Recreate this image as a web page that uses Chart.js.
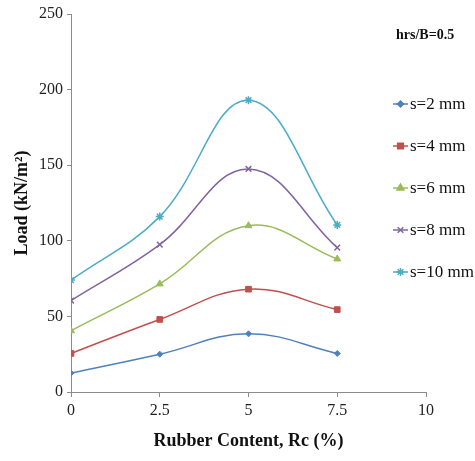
<!DOCTYPE html>
<html>
<head>
<meta charset="utf-8">
<script src="https://cdn.jsdelivr.net/npm/chart.js@4.4.1/dist/chart.umd.min.js"></script>
<style>
  html, body { margin: 0; padding: 0; background: #fff; }
  #wrap { width: 475px; height: 461px; }
</style>
</head>
<body>
<div id="wrap"><canvas id="chart" width="475" height="461"></canvas></div>
<script>
// rubber content (%) on x, load in kN/m2 on y
var rubber = [0, 2.5, 5, 7.5];
var xTicks = [0, 2.5, 5, 7.5, 10];
var s2 = [12.5, 25, 38.5, 25.5];
var s4 = [25.5, 48, 68, 54.5];
var s6 = [40.5, 71.5, 110, 88];
var s8 = [60.5, 97.5, 147.5, 95.5];
var s10 = [74, 116, 193, 110.5];
var seriesNames = ["s=2 mm", "s=4 mm", "s=6 mm", "s=8 mm", "s=10 mm"];
var noteText = "hrs/B=0.5";

var colors = ["#4F81BD", "#C0504D", "#9BBB59", "#8064A2", "#4BACC6"];
var markers = ["rectRot", "rect", "triangle", "crossRot", "star"];
var radii = [3, 4, 4, 4, 4];

function pts(vals) {
    return vals.map(function (v, i) { return {x: rubber[i], y: v}; });
}

var allSeries = [s2, s4, s6, s8, s10];
var datasets = allSeries.map(function (vals, i) {
    return {
        label: seriesNames[i],
        data: pts(vals),
        borderColor: colors[i],
        backgroundColor: colors[i],
        borderWidth: 1.5,
        pointStyle: markers[i],
        pointRadius: radii[i],
        pointBorderWidth: (i >= 3 ? 1.5 : 1),
        pointBorderColor: colors[i],
        pointBackgroundColor: colors[i],
        tension: 0.4,
        fill: false
    };
});

var serif = "'Liberation Serif', 'Times New Roman', serif";

// legend drawn at the right, overlapping the plot area like the original
var sideLegend = {
    id: "sideLegend",
    afterDraw: function (chart) {
        var ctx = chart.ctx;
        ctx.save();
        ctx.fillStyle = "#111";
        ctx.font = "bold 14px " + serif;
        ctx.textBaseline = "middle";
        ctx.textAlign = "left";
        ctx.fillText(noteText, 396, 35);

        chart.data.datasets.forEach(function (ds, i) {
            var y = 104 + i * 42;
            ctx.strokeStyle = ds.borderColor;
            ctx.lineWidth = 1.5;
            ctx.beginPath();
            ctx.moveTo(393, y);
            ctx.lineTo(408, y);
            ctx.stroke();
            ctx.fillStyle = ds.borderColor;
            Chart.helpers.drawPoint(ctx, {
                pointStyle: ds.pointStyle,
                radius: ds.pointRadius,
                rotation: 0,
                borderWidth: ds.pointBorderWidth
            }, 400.5, y);
            ctx.fillStyle = "#111";
            ctx.font = "17px " + serif;
            ctx.fillText(ds.label, 410, y + 1);
        });
        ctx.restore();
    }
};

new Chart(document.getElementById("chart"), {
    type: "line",
    data: {datasets: datasets},
    plugins: [sideLegend],
    options: {
        responsive: false,
        animation: false,
        layout: {padding: {top: 14, right: 49, left: 0, bottom: 0}},
        plugins: {
            legend: {display: false},
            tooltip: {enabled: false}
        },
        scales: {
            x: {
                type: "linear",
                min: 0,
                max: 10,
                afterBuildTicks: function (scale) {
                    scale.ticks = xTicks.map(function (v) { return {value: v}; });
                },
                afterFit: function (scale) { scale.height = 69; },
                grid: {drawOnChartArea: false, drawTicks: true, tickLength: 5, color: "#8c8c8c"},
                border: {color: "#8c8c8c", width: 1},
                ticks: {
                    color: "#222",
                    padding: 4,
                    font: {family: serif, size: 16},
                    callback: function (v) { return String(v); }
                },
                title: {
                    display: true,
                    text: "Rubber Content, Rc (%)",
                    color: "#111",
                    font: {family: serif, size: 18, weight: "bold"},
                    padding: {top: 10, bottom: 9}
                }
            },
            y: {
                min: 0,
                max: 250,
                ticks: {
                    stepSize: 50,
                    color: "#222",
                    padding: 4,
                    font: {family: serif, size: 16}
                },
                afterFit: function (scale) { scale.width = 71; },
                grid: {drawOnChartArea: false, drawTicks: true, tickLength: 4, color: "#8c8c8c"},
                border: {color: "#8c8c8c", width: 1},
                title: {
                    display: true,
                    text: "Load (kN/m²)",
                    color: "#111",
                    font: {family: serif, size: 18, weight: "bold"},
                    padding: {top: 12, bottom: 8}
                }
            }
        }
    }
});
</script>
</body>
</html>
